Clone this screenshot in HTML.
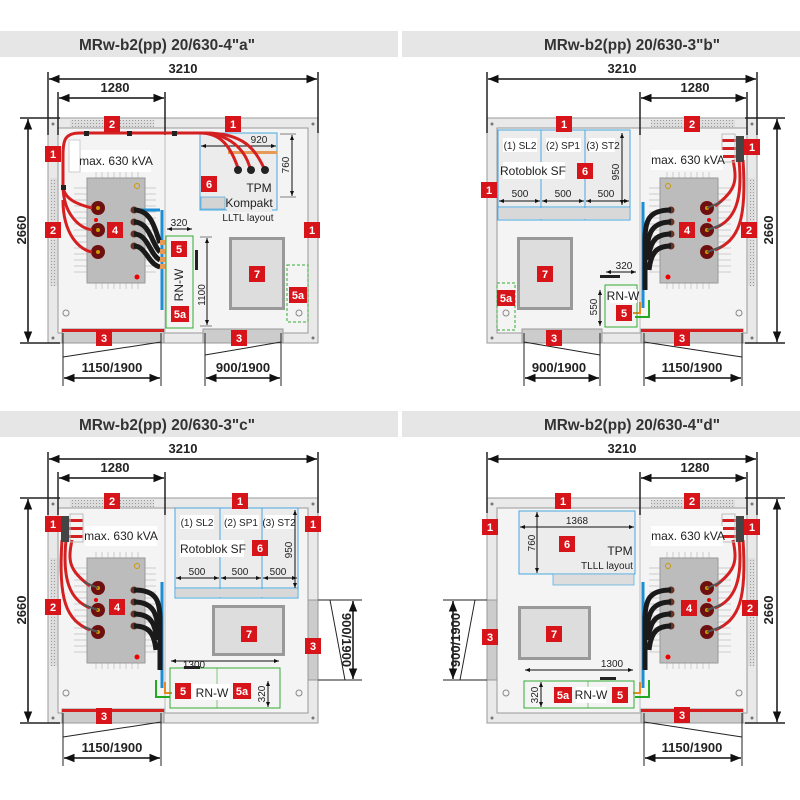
<!DOCTYPE html>
<html><head><meta charset="utf-8"><style>
html,body{margin:0;padding:0;background:#fff;width:800px;height:800px;overflow:hidden}
svg{display:block}
text{font-family:"Liberation Sans Narrow","Liberation Sans",sans-serif}
.t{font-size:16px;font-weight:bold;fill:#333;text-anchor:middle}
.d{font-size:13px;font-weight:bold;fill:#222;text-anchor:middle}
.s{font-size:10px;fill:#222;text-anchor:middle}
.m{font-size:12px;fill:#222;text-anchor:middle}
.lb{font-size:11px;font-weight:bold;fill:#fff;text-anchor:middle}
</style></head><body>
<svg width="800" height="800" viewBox="0 0 800 800" xmlns="http://www.w3.org/2000/svg">
<defs>
<marker id="ar" viewBox="0 0 10 10" refX="10" refY="5" markerWidth="7" markerHeight="7" orient="auto-start-reverse"><path d="M0,1 L10,5 L0,9 z" fill="#111"/></marker>
<marker id="as" viewBox="0 0 10 10" refX="10" refY="5" markerWidth="5" markerHeight="5" orient="auto-start-reverse"><path d="M0,1 L10,5 L0,9 z" fill="#111"/></marker>
<pattern id="vent" width="3" height="3" patternUnits="userSpaceOnUse"><rect width="3" height="3" fill="#ddd"/><rect width="1" height="1" fill="#999"/></pattern>
<g id="frame">
 <rect x="48" y="118" width="270" height="225" fill="#e9e9e9" stroke="#999"/>
 <rect x="58" y="128" width="250" height="205" fill="#f4f4f4" stroke="#999"/>
 <rect x="70" y="120" width="84" height="7" fill="url(#vent)"/>
 <rect x="50" y="178" width="7" height="108" fill="url(#vent)"/>
 <circle cx="53" cy="124" r="1.5" fill="#777"/><circle cx="313" cy="124" r="1.5" fill="#777"/>
 <circle cx="53" cy="338" r="1.5" fill="#777"/><circle cx="313" cy="338" r="1.5" fill="#777"/>
 <circle cx="66" cy="313" r="3" fill="none" stroke="#888"/><circle cx="299" cy="313" r="3" fill="none" stroke="#888"/>
 <line x1="165" y1="92" x2="165" y2="135" stroke="#222" stroke-width="1.5"/>
 <line x1="165" y1="135" x2="165" y2="333" stroke="#bbb"/>
 <rect x="62" y="329" width="102" height="14" fill="#ccc" stroke="#999"/>
 <rect x="62" y="329" width="102" height="3" fill="#d42020"/>
 <line x1="63" y1="333" x2="63" y2="386" stroke="#222"/><line x1="161" y1="333" x2="161" y2="386" stroke="#222"/>
 <line x1="63" y1="357" x2="161" y2="342" stroke="#222"/>
 <line x1="64" y1="378" x2="160" y2="378" stroke="#111" stroke-width="1.5" marker-start="url(#ar)" marker-end="url(#ar)"/>
 <line x1="48" y1="72" x2="48" y2="135" stroke="#222" stroke-width="1.5"/>
 <line x1="318" y1="72" x2="318" y2="133" stroke="#222" stroke-width="1.5"/>
 <line x1="49" y1="79" x2="317" y2="79" stroke="#111" stroke-width="1.5" marker-start="url(#ar)" marker-end="url(#ar)"/>
 <line x1="58" y1="92" x2="58" y2="135" stroke="#222" stroke-width="1.5"/>
 <line x1="59" y1="98" x2="164" y2="98" stroke="#111" stroke-width="1.5" marker-start="url(#ar)" marker-end="url(#ar)"/>
 <line x1="20" y1="118" x2="60" y2="118" stroke="#222" stroke-width="1.5"/>
 <line x1="20" y1="343" x2="60" y2="343" stroke="#222" stroke-width="1.5"/>
 <line x1="28" y1="119" x2="28" y2="342" stroke="#111" stroke-width="1.5" marker-start="url(#ar)" marker-end="url(#ar)"/>
</g>
<g id="tr">
 <g stroke="#ccc" stroke-width="1">
  <path d="M74 188H87M74 194H87M74 200H87M74 206H87M74 212H87M74 218H87M74 224H87M74 230H87M74 236H87M74 242H87M74 248H87M74 254H87M74 260H87M74 266H87M74 272H87"/>
  <path d="M145 188H156M145 194H156M145 200H156M145 206H156M145 212H156M145 218H156M145 224H156M145 230H156M145 236H156M145 242H156M145 248H156M145 254H156M145 260H156M145 266H156M145 272H156"/>
  <path d="M96 172V178M102 172V178M108 172V178M114 172V178M120 172V178M126 172V178M132 172V178M138 172V178M96 283V289M102 283V289M108 283V289M114 283V289M120 283V289M126 283V289M132 283V289M138 283V289"/>
 </g>
 <rect x="87" y="178" width="58" height="105" fill="#bcbcbc" stroke="#999"/>
 <circle cx="137" cy="186" r="2.5" fill="none" stroke="#c90"/>
 <circle cx="137" cy="277" r="2.5" fill="#e00"/><circle cx="96" cy="220" r="2" fill="#e00"/>
 <circle cx="98" cy="208" r="7" fill="#6e1010"/><circle cx="98" cy="208" r="2" fill="#c90"/>
 <circle cx="98" cy="230" r="7" fill="#6e1010"/><circle cx="98" cy="230" r="2" fill="#c90"/>
 <circle cx="98" cy="252" r="7" fill="#6e1010"/><circle cx="98" cy="252" r="2" fill="#c90"/>
 <g fill="#6a3020"><circle cx="134" cy="210" r="3.5"/><circle cx="134" cy="222" r="3.5"/><circle cx="134" cy="234" r="3.5"/><circle cx="134" cy="246" r="3.5"/></g>
</g>
<g id="cabA" fill="none">
 <path d="M162 210 V310" stroke="#1a8fd8" stroke-width="3"/>
 <path d="M134 210 H160" stroke="#1a8fd8" stroke-width="3"/>
 <g stroke="#1a1a1a" stroke-width="5">
  <path d="M134 210 C152 210 155 230 160 243"/><path d="M134 222 C150 222 152 245 160 252"/>
  <path d="M134 234 C148 234 150 255 160 260"/><path d="M134 246 C146 246 148 264 160 267"/>
 </g>
 <g fill="#e69a55"><rect x="160" y="240" width="6" height="5"/><rect x="160" y="249" width="6" height="5"/><rect x="160" y="257" width="6" height="5"/><rect x="160" y="264" width="6" height="5"/></g>
</g>
<g id="cabC" fill="none">
 <path d="M162 582 V688" stroke="#1a8fd8" stroke-width="3"/>
 <g stroke="#1a1a1a" stroke-width="5">
  <path d="M134 590 C156 590 160 600 160 620 V670"/><path d="M134 602 C152 602 157 612 158 630"/>
  <path d="M134 614 C150 614 155 622 157 640"/><path d="M134 626 C148 626 154 632 156 650"/>
 </g>
 <path d="M156 680 V697 H170" stroke="#2a2" stroke-width="2"/>
 <path d="M165 682 V693 H172" stroke="#e88a20" stroke-width="2"/>
 <g stroke="#d42020" stroke-width="3">
  <path d="M72 540 C68 560 68 570 90 586"/><path d="M66 540 C62 580 70 600 90 608"/><path d="M62 540 C58 600 66 620 90 630"/>
 </g>
 <g stroke="#555" stroke-width="2"><path d="M84 582 L98 588M84 605 L98 610M84 627 L98 632"/></g>
 <rect x="61" y="516" width="8" height="26" fill="#444"/>
 <g fill="#d42020"><rect x="69" y="519" width="14" height="3"/><rect x="69" y="527" width="14" height="3"/><rect x="69" y="535" width="14" height="3"/></g>
 <rect x="70" y="514" width="13" height="28" fill="none" stroke="#bbb"/>
</g>
</defs>

<rect x="0" y="31" width="398" height="26" fill="#e6e6e6"/>
<rect x="402" y="31" width="398" height="26" fill="#e6e6e6"/>
<rect x="0" y="411" width="398" height="26" fill="#e6e6e6"/>
<rect x="402" y="411" width="398" height="26" fill="#e6e6e6"/>
<text class="t" x="167" y="50" textLength="176" lengthAdjust="spacingAndGlyphs">MRw-b2(pp) 20/630-4"a"</text>
<text class="t" x="632" y="50" textLength="176" lengthAdjust="spacingAndGlyphs">MRw-b2(pp) 20/630-3"b"</text>
<text class="t" x="167" y="430" textLength="176" lengthAdjust="spacingAndGlyphs">MRw-b2(pp) 20/630-3"c"</text>
<text class="t" x="632" y="430" textLength="176" lengthAdjust="spacingAndGlyphs">MRw-b2(pp) 20/630-4"d"</text>

<!-- Panel A -->
<use href="#frame"/>
<rect x="203" y="329" width="80" height="14" fill="#ccc" stroke="#999"/>
<line x1="205" y1="333" x2="205" y2="386" stroke="#222"/><line x1="281" y1="333" x2="281" y2="386" stroke="#222"/>
<line x1="205" y1="355" x2="281" y2="342" stroke="#222"/>
<line x1="206" y1="378" x2="280" y2="378" stroke="#111" stroke-width="1.5" marker-start="url(#ar)" marker-end="url(#ar)"/>
<rect x="200" y="133" width="77" height="77" fill="#ececec" stroke="#4aa8e0"/>
<rect x="201" y="197" width="24" height="12" fill="#d4d4d4" stroke="#4aa8e0" stroke-width=".7"/>
<rect x="228" y="151" width="49" height="3" fill="#e69a55"/>
<line x1="201" y1="146" x2="276" y2="146" stroke="#111" marker-start="url(#as)" marker-end="url(#as)"/>
<text class="s" x="259" y="143">920</text>
<line x1="280" y1="134" x2="296" y2="134" stroke="#333" stroke-width=".6"/><line x1="280" y1="197" x2="296" y2="197" stroke="#333" stroke-width=".6"/>
<line x1="292" y1="135" x2="292" y2="196" stroke="#111" marker-start="url(#as)" marker-end="url(#as)"/>
<text class="s" transform="translate(289,165) rotate(-90)">760</text>
<use href="#tr"/>
<g fill="none" stroke="#d42020" stroke-width="3">
 <path d="M200 133 H80 C65 133 63 140 63 155 V185 C63 200 80 205 92 208"/>
 <path d="M63 185 C63 215 80 228 92 230"/><path d="M63 200 C63 235 80 250 92 252"/>
 <path d="M200 133 C220 133 230 145 238 168"/><path d="M200 133 C230 133 245 150 250 168"/><path d="M205 133 C245 133 255 150 264 168"/>
</g>
<g fill="#222"><circle cx="238" cy="170" r="4"/><circle cx="251" cy="170" r="4"/><circle cx="265" cy="170" r="4"/>
<rect x="84" y="131" width="5" height="5"/><rect x="127" y="131" width="5" height="5"/><rect x="172" y="131" width="5" height="5"/><rect x="61" y="185" width="5" height="5"/></g>
<use href="#cabA"/>
<rect x="69" y="140" width="11" height="32" fill="#fff" stroke="#ccc"/>
<rect x="81" y="150" width="70" height="22" fill="#fff"/>
<text class="m" x="116" y="165">max. 630 kVA</text>
<rect x="227" y="182" width="45" height="30" fill="#ececec"/>
<text class="m" x="259" y="192">TPM</text>
<text class="m" x="249" y="207">Kompakt</text>
<text class="s" x="248" y="221">LLTL layout</text>
<rect x="229" y="237" width="56" height="73" fill="#999"/><rect x="232" y="240" width="50" height="67" fill="#ddd"/>
<rect x="166" y="236" width="27" height="92" fill="none" stroke="#3a3"/>
<rect x="195" y="250" width="3" height="20" fill="#222"/>
<text class="m" transform="translate(183,285) rotate(-90)">RN-W</text>
<line x1="167" y1="229" x2="192" y2="229" stroke="#111" marker-start="url(#as)" marker-end="url(#as)"/>
<text class="s" x="179" y="226">320</text>
<line x1="200" y1="237" x2="212" y2="237" stroke="#333" stroke-width=".6"/><line x1="200" y1="326" x2="212" y2="326" stroke="#333" stroke-width=".6"/>
<line x1="207" y1="238" x2="207" y2="325" stroke="#111" marker-start="url(#as)" marker-end="url(#as)"/>
<text class="s" transform="translate(205,295) rotate(-90)">1100</text>
<rect x="287" y="265" width="21" height="57" fill="none" stroke="#3a3" stroke-dasharray="3,2"/>
<text class="d" x="183" y="73">3210</text>
<text class="d" x="115" y="92">1280</text>
<text class="d" transform="translate(26,230) rotate(-90)">2660</text>
<text class="d" x="112" y="372">1150/1900</text>
<text class="d" x="243" y="372">900/1900</text>

<!-- Panel B -->
<g transform="translate(805,0) scale(-1,1)">
<use href="#frame"/>
<rect x="203" y="329" width="80" height="14" fill="#ccc" stroke="#999"/>
<line x1="205" y1="333" x2="205" y2="386" stroke="#222"/><line x1="281" y1="333" x2="281" y2="386" stroke="#222"/>
<line x1="205" y1="355" x2="281" y2="342" stroke="#222"/>
<line x1="206" y1="378" x2="280" y2="378" stroke="#111" stroke-width="1.5" marker-start="url(#ar)" marker-end="url(#ar)"/>
<use href="#tr"/>
<g transform="translate(0,-380)"><use href="#cabC"/></g>
</g>
<rect x="498" y="130" width="132" height="90" fill="#ececec" stroke="#4aa8e0"/>
<line x1="541" y1="130" x2="541" y2="220" stroke="#4aa8e0"/><line x1="585" y1="130" x2="585" y2="220" stroke="#4aa8e0"/>
<line x1="498" y1="207" x2="630" y2="207" stroke="#4aa8e0"/><rect x="499" y="208" width="130" height="11" fill="#d8d8d8"/>
<rect x="503" y="138" width="34" height="14" fill="#fff"/><rect x="546" y="138" width="35" height="14" fill="#fff"/><rect x="589" y="138" width="26" height="14" fill="#fff"/>
<text class="s" x="520" y="149">(1) SL2</text><text class="s" x="563" y="149">(2) SP1</text><text class="s" x="603" y="149">(3) ST2</text>
<rect x="503" y="162" width="62" height="17" fill="#fff"/>
<text class="m" x="533" y="175">Rotoblok SF</text>
<line x1="499" y1="201" x2="540" y2="201" stroke="#111" marker-start="url(#as)" marker-end="url(#as)"/>
<line x1="542" y1="201" x2="584" y2="201" stroke="#111" marker-start="url(#as)" marker-end="url(#as)"/>
<line x1="586" y1="201" x2="629" y2="201" stroke="#111" marker-start="url(#as)" marker-end="url(#as)"/>
<text class="s" x="520" y="197">500</text><text class="s" x="563" y="197">500</text><text class="s" x="606" y="197">500</text>
<line x1="622" y1="133" x2="622" y2="205" stroke="#111" marker-start="url(#as)" marker-end="url(#as)"/>
<text class="s" transform="translate(619,172) rotate(-90)">950</text>
<rect x="651" y="150" width="72" height="20" fill="#fff"/>
<text class="m" x="688" y="164">max. 630 kVA</text>
<rect x="517" y="237" width="56" height="73" fill="#999"/><rect x="520" y="240" width="50" height="67" fill="#ddd"/>
<rect x="497" y="283" width="18" height="47" fill="none" stroke="#3a3" stroke-dasharray="3,2"/>
<rect x="605" y="285" width="32" height="42" fill="none" stroke="#3a3"/>
<rect x="610" y="289" width="27" height="14" fill="#fff"/>
<text class="m" x="623" y="300">RN-W</text>
<line x1="606" y1="272" x2="636" y2="272" stroke="#111" marker-start="url(#as)" marker-end="url(#as)"/>
<text class="s" x="624" y="269">320</text>
<rect x="600" y="275" width="20" height="3" fill="#222"/>
<line x1="600" y1="290" x2="600" y2="326" stroke="#111" marker-start="url(#as)" marker-end="url(#as)"/>
<text class="s" transform="translate(597,307) rotate(-90)">550</text>
<text class="d" x="622" y="73">3210</text>
<text class="d" x="695" y="92">1280</text>
<text class="d" transform="translate(773,230) rotate(-90)">2660</text>
<text class="d" x="559" y="372">900/1900</text>
<text class="d" x="692" y="372">1150/1900</text>

<!-- Panel C -->
<g transform="translate(0,380)"><use href="#frame"/><use href="#tr"/></g>
<use href="#cabC"/>
<rect x="308" y="600" width="10" height="80" fill="#ccc" stroke="#999"/>
<line x1="318" y1="600" x2="362" y2="600" stroke="#222"/><line x1="318" y1="680" x2="362" y2="680" stroke="#222"/>
<line x1="330" y1="600" x2="345" y2="680" stroke="#222"/>
<line x1="353" y1="601" x2="353" y2="679" stroke="#111" stroke-width="1.5" marker-start="url(#ar)" marker-end="url(#ar)"/>
<text class="d" transform="translate(342,640) rotate(90)">900/1900</text>
<rect x="175" y="508" width="123" height="90" fill="#ececec" stroke="#4aa8e0"/>
<line x1="220" y1="508" x2="220" y2="598" stroke="#4aa8e0"/><line x1="262" y1="508" x2="262" y2="598" stroke="#4aa8e0"/>
<line x1="175" y1="588" x2="298" y2="588" stroke="#4aa8e0"/><rect x="176" y="589" width="121" height="8" fill="#d8d8d8"/>
<rect x="180" y="515" width="34" height="14" fill="#fff"/><rect x="224" y="515" width="35" height="14" fill="#fff"/><rect x="265" y="515" width="30" height="14" fill="#fff"/>
<text class="s" x="197" y="526">(1) SL2</text><text class="s" x="241" y="526">(2) SP1</text><text class="s" x="279" y="526">(3) ST2</text>
<rect x="180" y="540" width="64" height="17" fill="#fff"/>
<text class="m" x="213" y="553">Rotoblok SF</text>
<line x1="176" y1="578" x2="219" y2="578" stroke="#111" marker-start="url(#as)" marker-end="url(#as)"/>
<line x1="221" y1="578" x2="261" y2="578" stroke="#111" marker-start="url(#as)" marker-end="url(#as)"/>
<line x1="263" y1="578" x2="297" y2="578" stroke="#111" marker-start="url(#as)" marker-end="url(#as)"/>
<text class="s" x="197" y="575">500</text><text class="s" x="240" y="575">500</text><text class="s" x="278" y="575">500</text>
<line x1="295" y1="510" x2="295" y2="588" stroke="#111" marker-start="url(#as)" marker-end="url(#as)"/>
<text class="s" transform="translate(292,550) rotate(-90)">950</text>
<rect x="85" y="526" width="72" height="20" fill="#fff"/>
<text class="m" x="121" y="540">max. 630 kVA</text>
<rect x="212" y="605" width="73" height="51" fill="#999"/><rect x="215" y="608" width="67" height="45" fill="#ddd"/>
<rect x="170" y="668" width="110" height="40" fill="none" stroke="#3a3"/><line x1="217" y1="668" x2="217" y2="708" stroke="#3a3" stroke-width=".6"/>
<rect x="190" y="684" width="40" height="16" fill="#fff"/>
<text class="m" x="212" y="697">RN-W</text>
<line x1="171" y1="661" x2="279" y2="661" stroke="#111" marker-start="url(#as)" marker-end="url(#as)"/>
<text class="s" x="194" y="668">1300</text>
<rect x="184" y="666" width="16" height="3" fill="#222"/>
<line x1="268" y1="681" x2="268" y2="707" stroke="#111" marker-start="url(#as)" marker-end="url(#as)"/>
<text class="s" transform="translate(265,694) rotate(-90)">320</text>
<text class="d" x="183" y="453">3210</text>
<text class="d" x="115" y="472">1280</text>
<text class="d" transform="translate(26,610) rotate(-90)">2660</text>
<text class="d" x="112" y="752">1150/1900</text>

<!-- Panel D -->
<g transform="translate(805,380) scale(-1,1)"><use href="#frame"/><use href="#tr"/></g>
<g transform="translate(805,0) scale(-1,1)"><use href="#cabC"/>
<rect x="308" y="600" width="10" height="80" fill="#ccc" stroke="#999"/>
<line x1="318" y1="600" x2="362" y2="600" stroke="#222"/><line x1="318" y1="680" x2="362" y2="680" stroke="#222"/>
<line x1="330" y1="600" x2="345" y2="680" stroke="#222"/>
<line x1="352" y1="601" x2="352" y2="679" stroke="#111" stroke-width="1.5" marker-start="url(#ar)" marker-end="url(#ar)"/>
</g>
<text class="d" transform="translate(460,640) rotate(-90)">900/1900</text>
<rect x="519" y="511" width="116" height="63" fill="#ececec" stroke="#4aa8e0"/>
<rect x="553" y="574" width="81" height="11" fill="#ddd" stroke="#4aa8e0" stroke-width=".7"/>
<line x1="520" y1="527" x2="634" y2="527" stroke="#111" marker-start="url(#as)" marker-end="url(#as)"/>
<text class="s" x="577" y="524">1368</text>
<line x1="537" y1="512" x2="537" y2="573" stroke="#111" marker-start="url(#as)" marker-end="url(#as)"/>
<text class="s" transform="translate(535,543) rotate(-90)">760</text>
<text class="m" x="620" y="555">TPM</text>
<text class="s" x="607" y="569">TLLL layout</text>
<rect x="651" y="526" width="72" height="20" fill="#fff"/>
<text class="m" x="688" y="540">max. 630 kVA</text>
<rect x="518" y="606" width="73" height="54" fill="#999"/><rect x="521" y="609" width="67" height="48" fill="#ddd"/>
<rect x="524" y="681" width="110" height="27" fill="none" stroke="#3a3"/><line x1="588" y1="681" x2="588" y2="708" stroke="#3a3" stroke-width=".6"/>
<rect x="576" y="687" width="30" height="16" fill="#fff"/>
<text class="m" x="591" y="699">RN-W</text>
<line x1="525" y1="670" x2="633" y2="670" stroke="#111" marker-start="url(#as)" marker-end="url(#as)"/>
<text class="s" x="612" y="667">1300</text>
<rect x="600" y="677" width="16" height="3" fill="#222"/>
<line x1="541" y1="682" x2="541" y2="707" stroke="#111" marker-start="url(#as)" marker-end="url(#as)"/>
<text class="s" transform="translate(538,695) rotate(-90)">320</text>
<text class="d" x="622" y="453">3210</text>
<text class="d" x="695" y="472">1280</text>
<text class="d" transform="translate(773,610) rotate(-90)">2660</text>
<text class="d" x="692" y="752">1150/1900</text>

<!-- red labels -->
<g>
<rect x="104" y="116" width="16" height="16" fill="#d7141a"/><text class="lb" x="112" y="128">2</text>
<rect x="225" y="116" width="16" height="16" fill="#d7141a"/><text class="lb" x="233" y="128">1</text>
<rect x="45" y="146" width="16" height="16" fill="#d7141a"/><text class="lb" x="53" y="158">1</text>
<rect x="45" y="222" width="16" height="16" fill="#d7141a"/><text class="lb" x="53" y="234">2</text>
<rect x="107" y="222" width="16" height="16" fill="#d7141a"/><text class="lb" x="115" y="234">4</text>
<rect x="171" y="241" width="16" height="16" fill="#d7141a"/><text class="lb" x="179" y="253">5</text>
<rect x="171" y="306" width="18" height="16" fill="#d7141a"/><text class="lb" x="180" y="318">5a</text>
<rect x="201" y="176" width="16" height="16" fill="#d7141a"/><text class="lb" x="209" y="188">6</text>
<rect x="249" y="266" width="16" height="16" fill="#d7141a"/><text class="lb" x="257" y="278">7</text>
<rect x="304" y="222" width="16" height="16" fill="#d7141a"/><text class="lb" x="312" y="234">1</text>
<rect x="289" y="287" width="18" height="16" fill="#d7141a"/><text class="lb" x="298" y="299">5a</text>
<rect x="96" y="330" width="16" height="16" fill="#d7141a"/><text class="lb" x="104" y="342">3</text>
<rect x="231" y="330" width="16" height="16" fill="#d7141a"/><text class="lb" x="239" y="342">3</text>

<rect x="556" y="116" width="16" height="16" fill="#d7141a"/><text class="lb" x="564" y="128">1</text>
<rect x="684" y="116" width="16" height="16" fill="#d7141a"/><text class="lb" x="692" y="128">2</text>
<rect x="744" y="139" width="16" height="16" fill="#d7141a"/><text class="lb" x="752" y="151">1</text>
<rect x="481" y="182" width="16" height="16" fill="#d7141a"/><text class="lb" x="489" y="194">1</text>
<rect x="577" y="163" width="16" height="16" fill="#d7141a"/><text class="lb" x="585" y="175">6</text>
<rect x="679" y="222" width="16" height="16" fill="#d7141a"/><text class="lb" x="687" y="234">4</text>
<rect x="741" y="222" width="16" height="16" fill="#d7141a"/><text class="lb" x="749" y="234">2</text>
<rect x="537" y="266" width="16" height="16" fill="#d7141a"/><text class="lb" x="545" y="278">7</text>
<rect x="497" y="290" width="18" height="16" fill="#d7141a"/><text class="lb" x="506" y="302">5a</text>
<rect x="616" y="305" width="16" height="16" fill="#d7141a"/><text class="lb" x="624" y="317">5</text>
<rect x="546" y="330" width="16" height="16" fill="#d7141a"/><text class="lb" x="554" y="342">3</text>
<rect x="674" y="330" width="16" height="16" fill="#d7141a"/><text class="lb" x="682" y="342">3</text>

<rect x="104" y="493" width="16" height="16" fill="#d7141a"/><text class="lb" x="112" y="505">2</text>
<rect x="232" y="493" width="16" height="16" fill="#d7141a"/><text class="lb" x="240" y="505">1</text>
<rect x="45" y="516" width="16" height="16" fill="#d7141a"/><text class="lb" x="53" y="528">1</text>
<rect x="305" y="516" width="16" height="16" fill="#d7141a"/><text class="lb" x="313" y="528">1</text>
<rect x="45" y="599" width="16" height="16" fill="#d7141a"/><text class="lb" x="53" y="611">2</text>
<rect x="109" y="599" width="16" height="16" fill="#d7141a"/><text class="lb" x="117" y="611">4</text>
<rect x="252" y="540" width="16" height="16" fill="#d7141a"/><text class="lb" x="260" y="552">6</text>
<rect x="241" y="626" width="16" height="16" fill="#d7141a"/><text class="lb" x="249" y="638">7</text>
<rect x="305" y="638" width="16" height="16" fill="#d7141a"/><text class="lb" x="313" y="650">3</text>
<rect x="175" y="683" width="16" height="16" fill="#d7141a"/><text class="lb" x="183" y="695">5</text>
<rect x="233" y="683" width="18" height="16" fill="#d7141a"/><text class="lb" x="242" y="695">5a</text>
<rect x="96" y="708" width="16" height="16" fill="#d7141a"/><text class="lb" x="104" y="720">3</text>

<rect x="555" y="493" width="16" height="16" fill="#d7141a"/><text class="lb" x="563" y="505">1</text>
<rect x="684" y="493" width="16" height="16" fill="#d7141a"/><text class="lb" x="692" y="505">2</text>
<rect x="482" y="519" width="16" height="16" fill="#d7141a"/><text class="lb" x="490" y="531">1</text>
<rect x="744" y="519" width="16" height="16" fill="#d7141a"/><text class="lb" x="752" y="531">1</text>
<rect x="559" y="536" width="16" height="16" fill="#d7141a"/><text class="lb" x="567" y="548">6</text>
<rect x="681" y="600" width="16" height="16" fill="#d7141a"/><text class="lb" x="689" y="612">4</text>
<rect x="742" y="600" width="16" height="16" fill="#d7141a"/><text class="lb" x="750" y="612">2</text>
<rect x="482" y="629" width="16" height="16" fill="#d7141a"/><text class="lb" x="490" y="641">3</text>
<rect x="546" y="626" width="16" height="16" fill="#d7141a"/><text class="lb" x="554" y="638">7</text>
<rect x="554" y="687" width="18" height="16" fill="#d7141a"/><text class="lb" x="563" y="699">5a</text>
<rect x="612" y="687" width="16" height="16" fill="#d7141a"/><text class="lb" x="620" y="699">5</text>
<rect x="674" y="707" width="16" height="16" fill="#d7141a"/><text class="lb" x="682" y="719">3</text>
</g>
</svg>
</body></html>
